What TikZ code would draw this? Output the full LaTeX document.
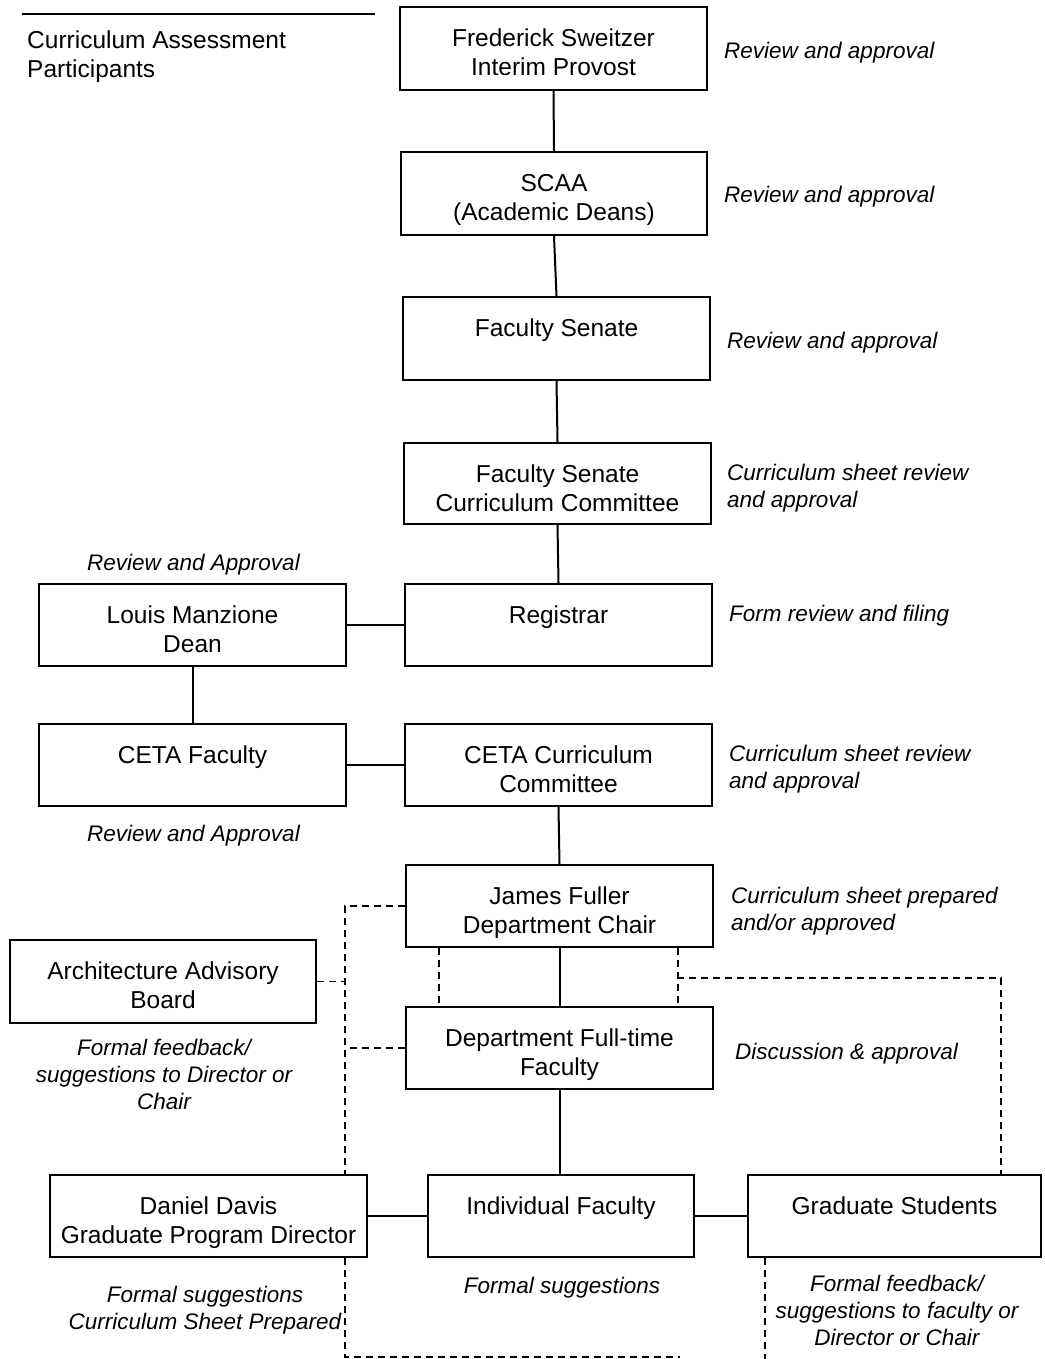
\documentclass[tikz,border=0pt]{standalone}
\usepackage{fontspec}
\setmainfont{Liberation Sans}
\begin{document}
\begin{tikzpicture}[x=1pt,y=-1pt,
  box/.style={draw, line width=2pt, inner sep=0pt, rectangle},
  btext/.style={anchor=north, align=center, inner sep=0pt, font=\fontsize{24.5}{29}\selectfont},
  ttext/.style={anchor=north west, align=left, inner sep=0pt, font=\fontsize{24.5}{29}\selectfont},
  note/.style={anchor=north west, align=left, inner sep=0pt, font=\fontsize{22.5}{27}\selectfont\itshape},
  cnote/.style={note, anchor=north, align=center},
  link/.style={line width=2pt},
  dlink/.style={line width=1.9pt, dash pattern=on 7pt off 5pt}]
\useasboundingbox (0,0) rectangle (1044,1359);

% title
\coordinate (tl) at (22,14);
\coordinate (tr) at (375,14);
\draw[link] (tl) -- (tr);
\node[ttext] (title) at (27,31) {Curriculum Assessment\\Participants};

% boxes
\node[box, minimum width=307pt, minimum height=83pt] (fred) at (553.5,48.5) {};
\node[box, minimum width=306pt, minimum height=83pt] (scaa) at (554,193.5) {};
\node[box, minimum width=307pt, minimum height=83pt] (fs) at (556.5,338.5) {};
\node[box, minimum width=307pt, minimum height=81pt] (fscc) at (557.5,483.5) {};
\node[box, minimum width=307pt, minimum height=82pt] (reg) at (558.5,625) {};
\node[box, minimum width=307pt, minimum height=82pt] (louis) at (192.5,625) {};
\node[box, minimum width=307pt, minimum height=82pt] (cetaf) at (192.5,765) {};
\node[box, minimum width=307pt, minimum height=82pt] (cetacc) at (558.5,765) {};
\node[box, minimum width=307pt, minimum height=82pt] (james) at (559.5,906) {};
\node[box, minimum width=307pt, minimum height=82pt] (dft) at (559.5,1048) {};
\node[box, minimum width=306pt, minimum height=83pt] (arch) at (163,981.5) {};
\node[box, minimum width=317pt, minimum height=82pt] (dan) at (208.5,1216) {};
\node[box, minimum width=266pt, minimum height=82pt] (ind) at (561,1216) {};
\node[box, minimum width=293pt, minimum height=82pt] (grad) at (894.5,1216) {};

% box texts
\node[btext] (fredt) at ([yshift=-23pt]fred.north) {Frederick Sweitzer\\Interim Provost};
\node[btext] (scaat) at ([yshift=-23pt]scaa.north) {SCAA\\(Academic Deans)};
\node[btext] (fst) at ([yshift=-23pt]fs.north) {Faculty Senate};
\node[btext] (fscct) at ([yshift=-23pt]fscc.north) {Faculty Senate\\Curriculum Committee};
\node[btext] (regt) at ([yshift=-23pt]reg.north) {Registrar};
\node[btext] (louist) at ([yshift=-23pt]louis.north) {Louis Manzione\\Dean};
\node[btext] (cetaft) at ([yshift=-23pt]cetaf.north) {CETA Faculty};
\node[btext] (cetacct) at ([yshift=-23pt]cetacc.north) {CETA Curriculum\\Committee};
\node[btext] (jamest) at ([yshift=-23pt]james.north) {James Fuller\\Department Chair};
\node[btext] (dftt) at ([yshift=-23pt]dft.north) {Department Full-time\\Faculty};
\node[btext] (archt) at ([yshift=-23pt]arch.north) {Architecture Advisory\\Board};
\node[btext] (dant) at ([yshift=-23pt]dan.north) {Daniel Davis\\Graduate Program Director};
\node[btext] (indt) at ([yshift=-23pt]ind.north) {Individual Faculty};
\node[btext] (gradt) at ([yshift=-23pt]grad.north) {Graduate Students};

% notes
\node[note] (n1) at (724,42) {Review and approval};
\node[note] (n2) at (724,186) {Review and approval};
\node[note] (n3) at (727,332) {Review and approval};
\node[note] (n4) at (727,464) {Curriculum sheet review\\and approval};
\node[cnote] (n5) at (193.5,554) {Review and Approval};
\node[note] (n6) at (729,605) {Form review and filing};
\node[note] (n7) at (729,745) {Curriculum sheet review\\and approval};
\node[cnote] (n8) at (193.5,825) {Review and Approval};
\node[note] (n9) at (731,887) {Curriculum sheet prepared\\and/or approved};
\node[cnote] (n10) at (164,1039) {Formal feedback/\\suggestions to Director or\\Chair};
\node[note] (n11) at (735,1043) {Discussion \& approval};
\node[cnote] (n12) at (205,1286) {Formal suggestions\\Curriculum Sheet Prepared};
\node[cnote] (n13) at (562,1277) {Formal suggestions};
\node[cnote] (n14) at (897,1275) {Formal feedback/\\suggestions to faculty or\\Director or Chair};

% solid connectors
\draw[link] (fred.south) -- (scaa.north);
\draw[link] (scaa.south) -- (fs.north);
\draw[link] (fs.south) -- (fscc.north);
\draw[link] (fscc.south) -- (reg.north);
\draw[link] (louis.east) -- (reg.west);
\draw[link] (louis.south) -- (cetaf.north);
\draw[link] (cetaf.east) -- (cetacc.west);
\draw[link] (cetacc.south) -- (james.north);
\draw[link] (james.south) -- (dft.north);
\draw[link] (dft.south) -- (ind.north -| dft.south);
\draw[link] (dan.east) -- (ind.west);
\draw[link] (ind.east) -- (grad.west);

% dashed connectors
\coordinate (jl) at (345,907);
\draw[dlink] (james.west) -| (dan.north -| jl);
\draw[dlink] (arch.east) -- (arch.east -| jl);
\draw[dlink] (dft.west) -- (dft.west -| jl);
\draw[dlink] ([xshift=34pt]james.south west) -- ([xshift=34pt]dft.north west);
\draw[dlink] ([xshift=-36pt]james.south east) -- ([xshift=-36pt]dft.north east);
\coordinate (rj) at (677,978);
\draw[dlink] (rj) -| ([xshift=-41pt]grad.north east);
\coordinate (bend) at (680,1357);
\draw[dlink] (dan.south -| jl) |- (bend);
\coordinate (gend) at (765,1359);
\draw[dlink] (grad.south -| gend) -- (gend);
\end{tikzpicture}
\end{document}
